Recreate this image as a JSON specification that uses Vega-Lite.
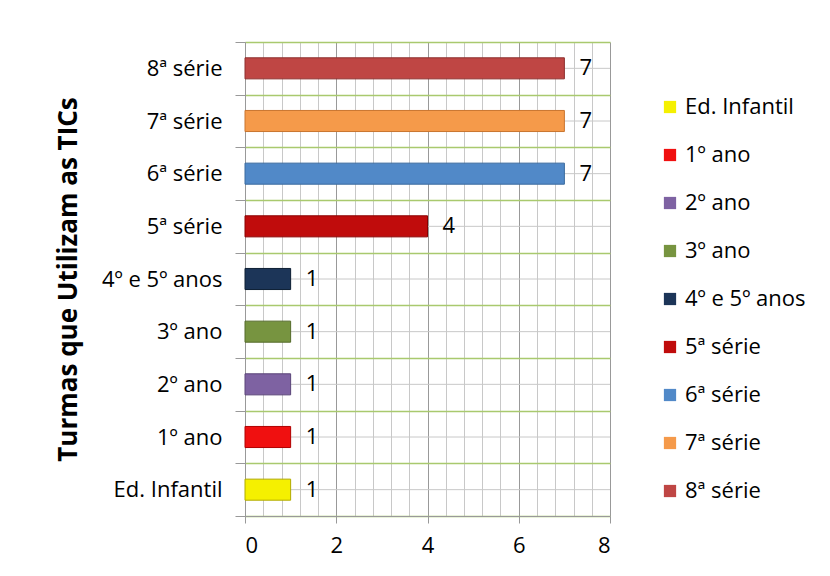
{
  "$schema": "https://vega.github.io/schema/vega-lite/v6.json",
  "width": 365,
  "height": 474,
  "autosize": {"type": "none"},
  "padding": {"left": 245, "top": 42, "right": 220, "bottom": 60},
  "background": "white",
  "config": {
    "font": "Open Sans",
    "view": {"stroke": null},
    "axis": {"labelFont": "Open Sans", "titleFont": "Open Sans"}
  },
  "data": {
    "values": [
      {"turma": "Ed. Infantil", "valor": 1},
      {"turma": "1º ano", "valor": 1},
      {"turma": "2º ano", "valor": 1},
      {"turma": "3º ano", "valor": 1},
      {"turma": "4º e 5º anos", "valor": 1},
      {"turma": "5ª série", "valor": 4},
      {"turma": "6ª série", "valor": 7},
      {"turma": "7ª série", "valor": 7},
      {"turma": "8ª série", "valor": 7}
    ]
  },
  "encoding": {
    "y": {
      "field": "turma",
      "type": "nominal",
      "sort": ["8ª série", "7ª série", "6ª série", "5ª série", "4º e 5º anos", "3º ano", "2º ano", "1º ano", "Ed. Infantil"],
      "scale": {"paddingInner": 0, "paddingOuter": 0},
      "axis": {
        "title": "Turmas que Utilizam as TICs",
        "titleFontSize": 26,
        "titleFontWeight": "bold",
        "titleColor": "#000",
        "titleX": -177,
        "titleY": 237,
        "titleAngle": -90,
        "titleAlign": "center",
        "titleBaseline": "middle",
        "labelFontSize": 22,
        "labelColor": "#000",
        "labelPadding": 13,
        "tickBand": "extent",
        "tickSize": 10,
        "tickColor": "#999",
        "domainColor": "#999",
        "grid": true,
        "gridColor": "#a9c96e",
        "gridWidth": 1.3,
        "zindex": 0
      }
    }
  },
  "resolve": {"axis": {"x": "independent"}},
  "layer": [
    {
      "mark": {"type": "rule", "color": "#c8c8c8", "strokeWidth": 1},
      "encoding": {
        "x": {
          "datum": 0,
          "type": "quantitative",
          "scale": {"domain": [0, 8], "nice": false},
          "axis": {
            "orient": "top",
            "title": null,
            "values": [0.4, 0.8, 1.2, 1.6, 2.4, 2.8, 3.2, 3.6, 4.4, 4.8, 5.2, 5.6, 6.4, 6.8, 7.2, 7.6],
            "labels": false,
            "ticks": false,
            "domain": false,
            "grid": true,
            "gridColor": "#c8c8c8",
            "gridWidth": 1
          }
        },
        "x2": {"datum": 8}
      }
    },
    {
      "mark": {"type": "bar", "strokeWidth": 1, "height": {"band": 0.4}},
      "encoding": {
        "x": {
          "field": "valor",
          "type": "quantitative",
          "axis": {
            "orient": "bottom",
            "title": null,
            "values": [0, 2, 4, 6, 8],
            "format": "d",
            "labelFontSize": 22,
            "labelColor": "#000",
            "labelPadding": 12,
            "tickSize": 7,
            "tickColor": "#999",
            "domainColor": "#999",
            "grid": true,
            "gridColor": "#999999",
            "gridWidth": 1
          }
        },
        "color": {
          "field": "turma",
          "type": "nominal",
          "scale": {
            "domain": ["Ed. Infantil", "1º ano", "2º ano", "3º ano", "4º e 5º anos", "5ª série", "6ª série", "7ª série", "8ª série"],
            "range": ["#f5f000", "#f01010", "#7e62a2", "#779440", "#1c3558", "#c00c0c", "#5189c8", "#f59a4a", "#bf4644"]
          },
          "legend": {
            "title": null,
            "orient": "none",
            "legendX": 414,
            "legendY": 54,
            "symbolType": "square",
            "symbolSize": 150,
            "symbolStrokeWidth": 0,
            "labelFontSize": 22,
            "labelFont": "Open Sans",
            "labelColor": "#000",
            "labelOffset": 4,
            "rowPadding": 26
          }
        },
        "stroke": {
          "field": "turma",
          "type": "nominal",
          "scale": {
            "domain": ["Ed. Infantil", "1º ano", "2º ano", "3º ano", "4º e 5º anos", "5ª série", "6ª série", "7ª série", "8ª série"],
            "range": ["#b0aa00", "#b00000", "#5a4478", "#556b2a", "#0d1e33", "#8a0000", "#3a6a9e", "#c9742e", "#8e2f2e"]
          },
          "legend": null
        }
      }
    },
    {
      "mark": {"type": "text", "align": "left", "baseline": "middle", "dx": 15, "fontSize": 22, "color": "#000", "font": "Open Sans"},
      "encoding": {
        "x": {"field": "valor", "type": "quantitative", "axis": null},
        "text": {"field": "valor", "type": "quantitative"}
      }
    }
  ]
}
